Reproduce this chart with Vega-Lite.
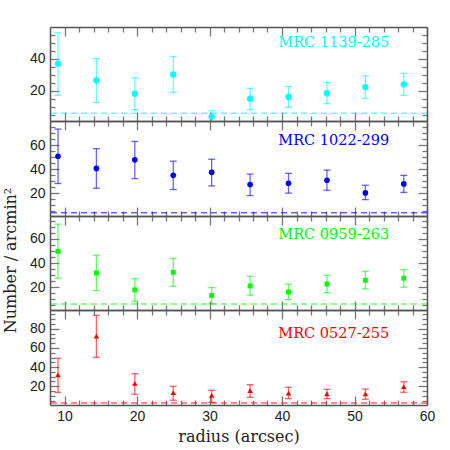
{
  "$schema": "https://vega.github.io/schema/vega-lite/v6.json",
  "padding": {"left": 1, "top": 26, "right": 5, "bottom": 5},
  "spacing": 0,
  "bounds": "flush",
  "config": {
    "view": {"stroke": null},
    "axis": {"grid": false, "domainColor": "#555555", "domainWidth": 1.5, "tickColor": "#777777", "tickWidth": 1.3, "labelFont": "Liberation Sans", "labelFontSize": 14, "labelColor": "#222222", "titleFont": "DejaVu Serif", "titleFontSize": 16, "titleFontWeight": "normal", "titleColor": "#222222", "labelFlush": false, "labelOverlap": false}
  },
  "datasets": {
    "pts": [
      {"src": "MRC 1139-285", "r": 9.1, "n": 36.9, "lo": 17.1, "hi": 56.5},
      {"src": "MRC 1139-285", "r": 14.4, "n": 26.5, "lo": 12.7, "hi": 40.2},
      {"src": "MRC 1139-285", "r": 19.7, "n": 18.1, "lo": 8.1, "hi": 28.1},
      {"src": "MRC 1139-285", "r": 25.0, "n": 30.2, "lo": 19.0, "hi": 41.5},
      {"src": "MRC 1139-285", "r": 30.3, "n": 3.8, "lo": 0.0, "hi": 7.5},
      {"src": "MRC 1139-285", "r": 35.6, "n": 15.0, "lo": 8.1, "hi": 21.5},
      {"src": "MRC 1139-285", "r": 40.9, "n": 16.1, "lo": 9.6, "hi": 22.7},
      {"src": "MRC 1139-285", "r": 46.2, "n": 18.4, "lo": 11.9, "hi": 25.2},
      {"src": "MRC 1139-285", "r": 51.5, "n": 22.3, "lo": 15.2, "hi": 29.4},
      {"src": "MRC 1139-285", "r": 56.8, "n": 24.0, "lo": 17.1, "hi": 30.9},
      {"src": "MRC 1022-299", "r": 9.1, "n": 50.7, "lo": 28.0, "hi": 73.3},
      {"src": "MRC 1022-299", "r": 14.4, "n": 40.6, "lo": 24.1, "hi": 57.0},
      {"src": "MRC 1022-299", "r": 19.7, "n": 47.7, "lo": 32.1, "hi": 63.0},
      {"src": "MRC 1022-299", "r": 25.0, "n": 34.8, "lo": 23.0, "hi": 46.6},
      {"src": "MRC 1022-299", "r": 30.3, "n": 37.3, "lo": 26.0, "hi": 48.2},
      {"src": "MRC 1022-299", "r": 35.6, "n": 27.2, "lo": 18.0, "hi": 35.9},
      {"src": "MRC 1022-299", "r": 40.9, "n": 28.2, "lo": 20.0, "hi": 36.5},
      {"src": "MRC 1022-299", "r": 46.2, "n": 30.7, "lo": 22.5, "hi": 39.2},
      {"src": "MRC 1022-299", "r": 51.5, "n": 20.2, "lo": 14.6, "hi": 26.6},
      {"src": "MRC 1022-299", "r": 56.8, "n": 27.7, "lo": 20.6, "hi": 34.8},
      {"src": "MRC 0959-263", "r": 9.1, "n": 49.7, "lo": 27.4, "hi": 72.2},
      {"src": "MRC 0959-263", "r": 14.4, "n": 31.7, "lo": 17.1, "hi": 46.4},
      {"src": "MRC 0959-263", "r": 19.7, "n": 17.7, "lo": 8.3, "hi": 27.0},
      {"src": "MRC 0959-263", "r": 25.0, "n": 32.3, "lo": 20.7, "hi": 43.9},
      {"src": "MRC 0959-263", "r": 30.3, "n": 13.0, "lo": 6.1, "hi": 19.6},
      {"src": "MRC 0959-263", "r": 35.6, "n": 21.0, "lo": 13.3, "hi": 29.0},
      {"src": "MRC 0959-263", "r": 40.9, "n": 16.0, "lo": 9.7, "hi": 22.4},
      {"src": "MRC 0959-263", "r": 46.2, "n": 22.6, "lo": 15.5, "hi": 29.8},
      {"src": "MRC 0959-263", "r": 51.5, "n": 25.7, "lo": 18.5, "hi": 33.1},
      {"src": "MRC 0959-263", "r": 56.8, "n": 27.4, "lo": 19.9, "hi": 34.5},
      {"src": "MRC 0527-255", "r": 9.1, "n": 31.8, "lo": 13.7, "hi": 49.2},
      {"src": "MRC 0527-255", "r": 14.4, "n": 72.4, "lo": 50.2, "hi": 94.0},
      {"src": "MRC 0527-255", "r": 19.7, "n": 23.1, "lo": 11.7, "hi": 33.1},
      {"src": "MRC 0527-255", "r": 25.0, "n": 13.3, "lo": 5.4, "hi": 20.0},
      {"src": "MRC 0527-255", "r": 30.3, "n": 10.6, "lo": 3.3, "hi": 15.8},
      {"src": "MRC 0527-255", "r": 35.6, "n": 15.4, "lo": 8.5, "hi": 21.7},
      {"src": "MRC 0527-255", "r": 40.9, "n": 13.0, "lo": 7.1, "hi": 19.0},
      {"src": "MRC 0527-255", "r": 46.2, "n": 12.0, "lo": 7.1, "hi": 16.9},
      {"src": "MRC 0527-255", "r": 51.5, "n": 12.0, "lo": 6.5, "hi": 17.2},
      {"src": "MRC 0527-255", "r": 56.8, "n": 19.6, "lo": 13.7, "hi": 24.8}
    ],
    "bg": [
      {"src": "MRC 1139-285", "level": 5.9},
      {"src": "MRC 1022-299", "level": 3.8},
      {"src": "MRC 0959-263", "level": 5.9},
      {"src": "MRC 0527-255", "level": 2.6}
    ]
  },
  "vconcat": [
    {
      "width": 377, "height": 94,
      "layer": [
        {"data": {"name": "pts"}, "transform": [{"filter": "datum.src === 'MRC 1139-285'"}],
         "mark": {"type": "rule", "color": "#00ffff", "opacity": 0.6, "strokeWidth": 1.3, "clip": true},
         "encoding": {
           "x": {"field": "r", "type": "quantitative", "scale": {"domain": [8, 60], "nice": false, "zero": false}, "axis": {"orient": "top", "title": null, "labels": false, "values": [10,12,14,16,18,20,22,24,26,28,30,32,34,36,38,40,42,44,46,48,50,52,54,56,58,60], "tickSize": {"condition": {"test": "datum.value % 10 === 0", "value": -9}, "value": -5}}},
           "y": {"field": "lo", "type": "quantitative", "scale": {"domain": [1, 60], "nice": false, "zero": false}, "axis": {"orient": "right", "title": null, "labels": false, "values": [5,10,15,20,25,30,35,40,45,50,55], "tickSize": {"condition": {"test": "datum.value % 20 === 0", "value": -9}, "value": -5}}},
           "y2": {"field": "hi"}
         }},
        {"data": {"name": "pts"}, "transform": [{"filter": "datum.src === 'MRC 1139-285'"}],
         "mark": {"type": "tick", "orient": "horizontal", "color": "#00ffff", "opacity": 0.6, "size": 7, "thickness": 1.3, "clip": true},
         "encoding": {
           "x": {"field": "r", "type": "quantitative", "scale": {"domain": [8, 60], "nice": false, "zero": false}, "axis": null},
           "y": {"field": "lo", "type": "quantitative", "scale": {"domain": [1, 60], "nice": false, "zero": false}, "axis": null}
         }},
        {"data": {"name": "pts"}, "transform": [{"filter": "datum.src === 'MRC 1139-285'"}],
         "mark": {"type": "tick", "orient": "horizontal", "color": "#00ffff", "opacity": 0.6, "size": 7, "thickness": 1.3, "clip": true},
         "encoding": {
           "x": {"field": "r", "type": "quantitative", "scale": {"domain": [8, 60], "nice": false, "zero": false}, "axis": null},
           "y": {"field": "hi", "type": "quantitative", "scale": {"domain": [1, 60], "nice": false, "zero": false}, "axis": null}
         }},
        {"data": {"name": "bg"}, "transform": [{"filter": "datum.src === 'MRC 1139-285'"}],
         "mark": {"type": "rule", "color": "#00ffff", "opacity": 0.6, "strokeWidth": 1.5, "strokeDash": [6, 4]},
         "encoding": {
           "y": {"field": "level", "type": "quantitative", "scale": {"domain": [1, 60], "nice": false, "zero": false}, "axis": null}
         }},
        {"data": {"name": "pts"}, "transform": [{"filter": "datum.src === 'MRC 1139-285'"}],
         "mark": {"type": "point", "shape": "circle", "filled": true, "opacity": 1, "color": "#00ffff", "size": 40, "clip": true},
         "encoding": {
           "x": {"field": "r", "type": "quantitative", "scale": {"domain": [8, 60], "nice": false, "zero": false}, "axis": {"orient": "bottom", "title": null, "labels": false, "values": [10,12,14,16,18,20,22,24,26,28,30,32,34,36,38,40,42,44,46,48,50,52,54,56,58,60], "tickSize": {"condition": {"test": "datum.value % 10 === 0", "value": -9}, "value": -5}}},
           "y": {"field": "n", "type": "quantitative", "scale": {"domain": [1, 60], "nice": false, "zero": false}, "axis": {"orient": "left", "title": null, "labelPadding": 14, "values": [5,10,15,20,25,30,35,40,45,50,55], "labelExpr": "datum.value % 20 === 0 ? datum.label : ''", "tickSize": {"condition": {"test": "datum.value % 20 === 0", "value": -9}, "value": -5}}}
         }},
        {"data": {"name": "bg"}, "transform": [{"filter": "datum.src === 'MRC 1139-285'"}],
         "mark": {"type": "text", "align": "right", "baseline": "middle", "font": "DejaVu Serif", "fontSize": 14.5, "color": "#00ffff"},
         "encoding": {
           "x": {"datum": 54.8, "type": "quantitative", "scale": {"domain": [8, 60], "nice": false, "zero": false}, "axis": null},
           "y": {"datum": 50, "type": "quantitative", "scale": {"domain": [1, 60], "nice": false, "zero": false}, "axis": null},
           "text": {"field": "src"}
         }}
      ]
    },
    {
      "width": 377, "height": 95,
      "layer": [
        {"data": {"name": "pts"}, "transform": [{"filter": "datum.src === 'MRC 1022-299'"}],
         "mark": {"type": "rule", "color": "#0000ff", "opacity": 0.6, "strokeWidth": 1.3, "clip": true},
         "encoding": {
           "x": {"field": "r", "type": "quantitative", "scale": {"domain": [8, 60], "nice": false, "zero": false}, "axis": {"orient": "top", "title": null, "labels": false, "values": [10,12,14,16,18,20,22,24,26,28,30,32,34,36,38,40,42,44,46,48,50,52,54,56,58,60], "tickSize": {"condition": {"test": "datum.value % 10 === 0", "value": -9}, "value": -5}}},
           "y": {"field": "lo", "type": "quantitative", "scale": {"domain": [1, 80], "nice": false, "zero": false}, "axis": {"orient": "right", "title": null, "labels": false, "values": [5,10,15,20,25,30,35,40,45,50,55,60,65,70,75], "tickSize": {"condition": {"test": "datum.value % 20 === 0", "value": -9}, "value": -5}}},
           "y2": {"field": "hi"}
         }},
        {"data": {"name": "pts"}, "transform": [{"filter": "datum.src === 'MRC 1022-299'"}],
         "mark": {"type": "tick", "orient": "horizontal", "color": "#0000ff", "opacity": 0.6, "size": 7, "thickness": 1.3, "clip": true},
         "encoding": {
           "x": {"field": "r", "type": "quantitative", "scale": {"domain": [8, 60], "nice": false, "zero": false}, "axis": null},
           "y": {"field": "lo", "type": "quantitative", "scale": {"domain": [1, 80], "nice": false, "zero": false}, "axis": null}
         }},
        {"data": {"name": "pts"}, "transform": [{"filter": "datum.src === 'MRC 1022-299'"}],
         "mark": {"type": "tick", "orient": "horizontal", "color": "#0000ff", "opacity": 0.6, "size": 7, "thickness": 1.3, "clip": true},
         "encoding": {
           "x": {"field": "r", "type": "quantitative", "scale": {"domain": [8, 60], "nice": false, "zero": false}, "axis": null},
           "y": {"field": "hi", "type": "quantitative", "scale": {"domain": [1, 80], "nice": false, "zero": false}, "axis": null}
         }},
        {"data": {"name": "bg"}, "transform": [{"filter": "datum.src === 'MRC 1022-299'"}],
         "mark": {"type": "rule", "color": "#0000ff", "opacity": 0.6, "strokeWidth": 1.5, "strokeDash": [6, 4]},
         "encoding": {
           "y": {"field": "level", "type": "quantitative", "scale": {"domain": [1, 80], "nice": false, "zero": false}, "axis": null}
         }},
        {"data": {"name": "pts"}, "transform": [{"filter": "datum.src === 'MRC 1022-299'"}],
         "mark": {"type": "point", "shape": "circle", "filled": true, "opacity": 1, "color": "#0000ff", "size": 32, "clip": true},
         "encoding": {
           "x": {"field": "r", "type": "quantitative", "scale": {"domain": [8, 60], "nice": false, "zero": false}, "axis": {"orient": "bottom", "title": null, "labels": false, "values": [10,12,14,16,18,20,22,24,26,28,30,32,34,36,38,40,42,44,46,48,50,52,54,56,58,60], "tickSize": {"condition": {"test": "datum.value % 10 === 0", "value": -9}, "value": -5}}},
           "y": {"field": "n", "type": "quantitative", "scale": {"domain": [1, 80], "nice": false, "zero": false}, "axis": {"orient": "left", "title": null, "labelPadding": 14, "values": [5,10,15,20,25,30,35,40,45,50,55,60,65,70,75], "labelExpr": "datum.value % 20 === 0 ? datum.label : ''", "tickSize": {"condition": {"test": "datum.value % 20 === 0", "value": -9}, "value": -5}}}
         }},
        {"data": {"name": "bg"}, "transform": [{"filter": "datum.src === 'MRC 1022-299'"}],
         "mark": {"type": "text", "align": "right", "baseline": "middle", "font": "DejaVu Serif", "fontSize": 14.5, "color": "#0000ff"},
         "encoding": {
           "x": {"datum": 54.8, "type": "quantitative", "scale": {"domain": [8, 60], "nice": false, "zero": false}, "axis": null},
           "y": {"datum": 63.6, "type": "quantitative", "scale": {"domain": [1, 80], "nice": false, "zero": false}, "axis": null},
           "text": {"field": "src"}
         }}
      ]
    },
    {
      "width": 377, "height": 94,
      "layer": [
        {"data": {"name": "pts"}, "transform": [{"filter": "datum.src === 'MRC 0959-263'"}],
         "mark": {"type": "rule", "color": "#00ff00", "opacity": 0.6, "strokeWidth": 1.3, "clip": true},
         "encoding": {
           "x": {"field": "r", "type": "quantitative", "scale": {"domain": [8, 60], "nice": false, "zero": false}, "axis": {"orient": "top", "title": null, "labels": false, "values": [10,12,14,16,18,20,22,24,26,28,30,32,34,36,38,40,42,44,46,48,50,52,54,56,58,60], "tickSize": {"condition": {"test": "datum.value % 10 === 0", "value": -9}, "value": -5}}},
           "y": {"field": "lo", "type": "quantitative", "scale": {"domain": [1, 79], "nice": false, "zero": false}, "axis": {"orient": "right", "title": null, "labels": false, "values": [5,10,15,20,25,30,35,40,45,50,55,60,65,70,75], "tickSize": {"condition": {"test": "datum.value % 20 === 0", "value": -9}, "value": -5}}},
           "y2": {"field": "hi"}
         }},
        {"data": {"name": "pts"}, "transform": [{"filter": "datum.src === 'MRC 0959-263'"}],
         "mark": {"type": "tick", "orient": "horizontal", "color": "#00ff00", "opacity": 0.6, "size": 7, "thickness": 1.3, "clip": true},
         "encoding": {
           "x": {"field": "r", "type": "quantitative", "scale": {"domain": [8, 60], "nice": false, "zero": false}, "axis": null},
           "y": {"field": "lo", "type": "quantitative", "scale": {"domain": [1, 79], "nice": false, "zero": false}, "axis": null}
         }},
        {"data": {"name": "pts"}, "transform": [{"filter": "datum.src === 'MRC 0959-263'"}],
         "mark": {"type": "tick", "orient": "horizontal", "color": "#00ff00", "opacity": 0.6, "size": 7, "thickness": 1.3, "clip": true},
         "encoding": {
           "x": {"field": "r", "type": "quantitative", "scale": {"domain": [8, 60], "nice": false, "zero": false}, "axis": null},
           "y": {"field": "hi", "type": "quantitative", "scale": {"domain": [1, 79], "nice": false, "zero": false}, "axis": null}
         }},
        {"data": {"name": "bg"}, "transform": [{"filter": "datum.src === 'MRC 0959-263'"}],
         "mark": {"type": "rule", "color": "#00ff00", "opacity": 0.6, "strokeWidth": 1.5, "strokeDash": [6, 4]},
         "encoding": {
           "y": {"field": "level", "type": "quantitative", "scale": {"domain": [1, 79], "nice": false, "zero": false}, "axis": null}
         }},
        {"data": {"name": "pts"}, "transform": [{"filter": "datum.src === 'MRC 0959-263'"}],
         "mark": {"type": "point", "shape": "square", "filled": true, "opacity": 1, "color": "#00ff00", "size": 24, "clip": true},
         "encoding": {
           "x": {"field": "r", "type": "quantitative", "scale": {"domain": [8, 60], "nice": false, "zero": false}, "axis": {"orient": "bottom", "title": null, "labels": false, "values": [10,12,14,16,18,20,22,24,26,28,30,32,34,36,38,40,42,44,46,48,50,52,54,56,58,60], "tickSize": {"condition": {"test": "datum.value % 10 === 0", "value": -9}, "value": -5}}},
           "y": {"field": "n", "type": "quantitative", "scale": {"domain": [1, 79], "nice": false, "zero": false}, "axis": {"orient": "left", "title": "Number / arcmin²", "titleX": -35, "titleY": 44, "titleAngle": 270, "titleAlign": "center", "titleBaseline": "alphabetic", "labelPadding": 14, "values": [5,10,15,20,25,30,35,40,45,50,55,60,65,70,75], "labelExpr": "datum.value % 20 === 0 ? datum.label : ''", "tickSize": {"condition": {"test": "datum.value % 20 === 0", "value": -9}, "value": -5}}}
         }},
        {"data": {"name": "bg"}, "transform": [{"filter": "datum.src === 'MRC 0959-263'"}],
         "mark": {"type": "text", "align": "right", "baseline": "middle", "font": "DejaVu Serif", "fontSize": 14.5, "color": "#00ff00"},
         "encoding": {
           "x": {"datum": 54.8, "type": "quantitative", "scale": {"domain": [8, 60], "nice": false, "zero": false}, "axis": null},
           "y": {"datum": 63.5, "type": "quantitative", "scale": {"domain": [1, 79], "nice": false, "zero": false}, "axis": null},
           "text": {"field": "src"}
         }}
      ]
    },
    {
      "width": 377, "height": 95,
      "layer": [
        {"data": {"name": "pts"}, "transform": [{"filter": "datum.src === 'MRC 0527-255'"}],
         "mark": {"type": "rule", "color": "#ff0000", "opacity": 0.6, "strokeWidth": 1.3, "clip": true},
         "encoding": {
           "x": {"field": "r", "type": "quantitative", "scale": {"domain": [8, 60], "nice": false, "zero": false}, "axis": {"orient": "top", "title": null, "labels": false, "values": [10,12,14,16,18,20,22,24,26,28,30,32,34,36,38,40,42,44,46,48,50,52,54,56,58,60], "tickSize": {"condition": {"test": "datum.value % 10 === 0", "value": -9}, "value": -5}}},
           "y": {"field": "lo", "type": "quantitative", "scale": {"domain": [0.5, 99.5], "nice": false, "zero": false}, "axis": {"orient": "right", "title": null, "labels": false, "values": [5,10,15,20,25,30,35,40,45,50,55,60,65,70,75,80,85,90,95], "tickSize": {"condition": {"test": "datum.value % 20 === 0", "value": -9}, "value": -5}}},
           "y2": {"field": "hi"}
         }},
        {"data": {"name": "pts"}, "transform": [{"filter": "datum.src === 'MRC 0527-255'"}],
         "mark": {"type": "tick", "orient": "horizontal", "color": "#ff0000", "opacity": 0.6, "size": 7, "thickness": 1.3, "clip": true},
         "encoding": {
           "x": {"field": "r", "type": "quantitative", "scale": {"domain": [8, 60], "nice": false, "zero": false}, "axis": null},
           "y": {"field": "lo", "type": "quantitative", "scale": {"domain": [0.5, 99.5], "nice": false, "zero": false}, "axis": null}
         }},
        {"data": {"name": "pts"}, "transform": [{"filter": "datum.src === 'MRC 0527-255'"}],
         "mark": {"type": "tick", "orient": "horizontal", "color": "#ff0000", "opacity": 0.6, "size": 7, "thickness": 1.3, "clip": true},
         "encoding": {
           "x": {"field": "r", "type": "quantitative", "scale": {"domain": [8, 60], "nice": false, "zero": false}, "axis": null},
           "y": {"field": "hi", "type": "quantitative", "scale": {"domain": [0.5, 99.5], "nice": false, "zero": false}, "axis": null}
         }},
        {"data": {"name": "bg"}, "transform": [{"filter": "datum.src === 'MRC 0527-255'"}],
         "mark": {"type": "rule", "color": "#ff0000", "opacity": 0.6, "strokeWidth": 1.5, "strokeDash": [6, 4]},
         "encoding": {
           "y": {"field": "level", "type": "quantitative", "scale": {"domain": [0.5, 99.5], "nice": false, "zero": false}, "axis": null}
         }},
        {"data": {"name": "pts"}, "transform": [{"filter": "datum.src === 'MRC 0527-255'"}],
         "mark": {"type": "point", "shape": "triangle-up", "filled": true, "opacity": 1, "color": "#ff0000", "size": 30, "clip": true},
         "encoding": {
           "x": {"field": "r", "type": "quantitative", "scale": {"domain": [8, 60], "nice": false, "zero": false}, "axis": {"orient": "bottom", "title": "radius (arcsec)", "labelPadding": 13, "titlePadding": 1, "values": [10,12,14,16,18,20,22,24,26,28,30,32,34,36,38,40,42,44,46,48,50,52,54,56,58,60], "labelExpr": "datum.value % 10 === 0 ? datum.label : ''", "tickSize": {"condition": {"test": "datum.value % 10 === 0", "value": -9}, "value": -5}}},
           "y": {"field": "n", "type": "quantitative", "scale": {"domain": [0.5, 99.5], "nice": false, "zero": false}, "axis": {"orient": "left", "title": null, "labelPadding": 14, "values": [5,10,15,20,25,30,35,40,45,50,55,60,65,70,75,80,85,90,95], "labelExpr": "datum.value % 20 === 0 ? datum.label : ''", "tickSize": {"condition": {"test": "datum.value % 20 === 0", "value": -9}, "value": -5}}}
         }},
        {"data": {"name": "bg"}, "transform": [{"filter": "datum.src === 'MRC 0527-255'"}],
         "mark": {"type": "text", "align": "right", "baseline": "middle", "font": "DejaVu Serif", "fontSize": 14.5, "color": "#ff0000"},
         "encoding": {
           "x": {"datum": 54.8, "type": "quantitative", "scale": {"domain": [8, 60], "nice": false, "zero": false}, "axis": null},
           "y": {"datum": 74.8, "type": "quantitative", "scale": {"domain": [0.5, 99.5], "nice": false, "zero": false}, "axis": null},
           "text": {"field": "src"}
         }}
      ]
    }
  ]
}
